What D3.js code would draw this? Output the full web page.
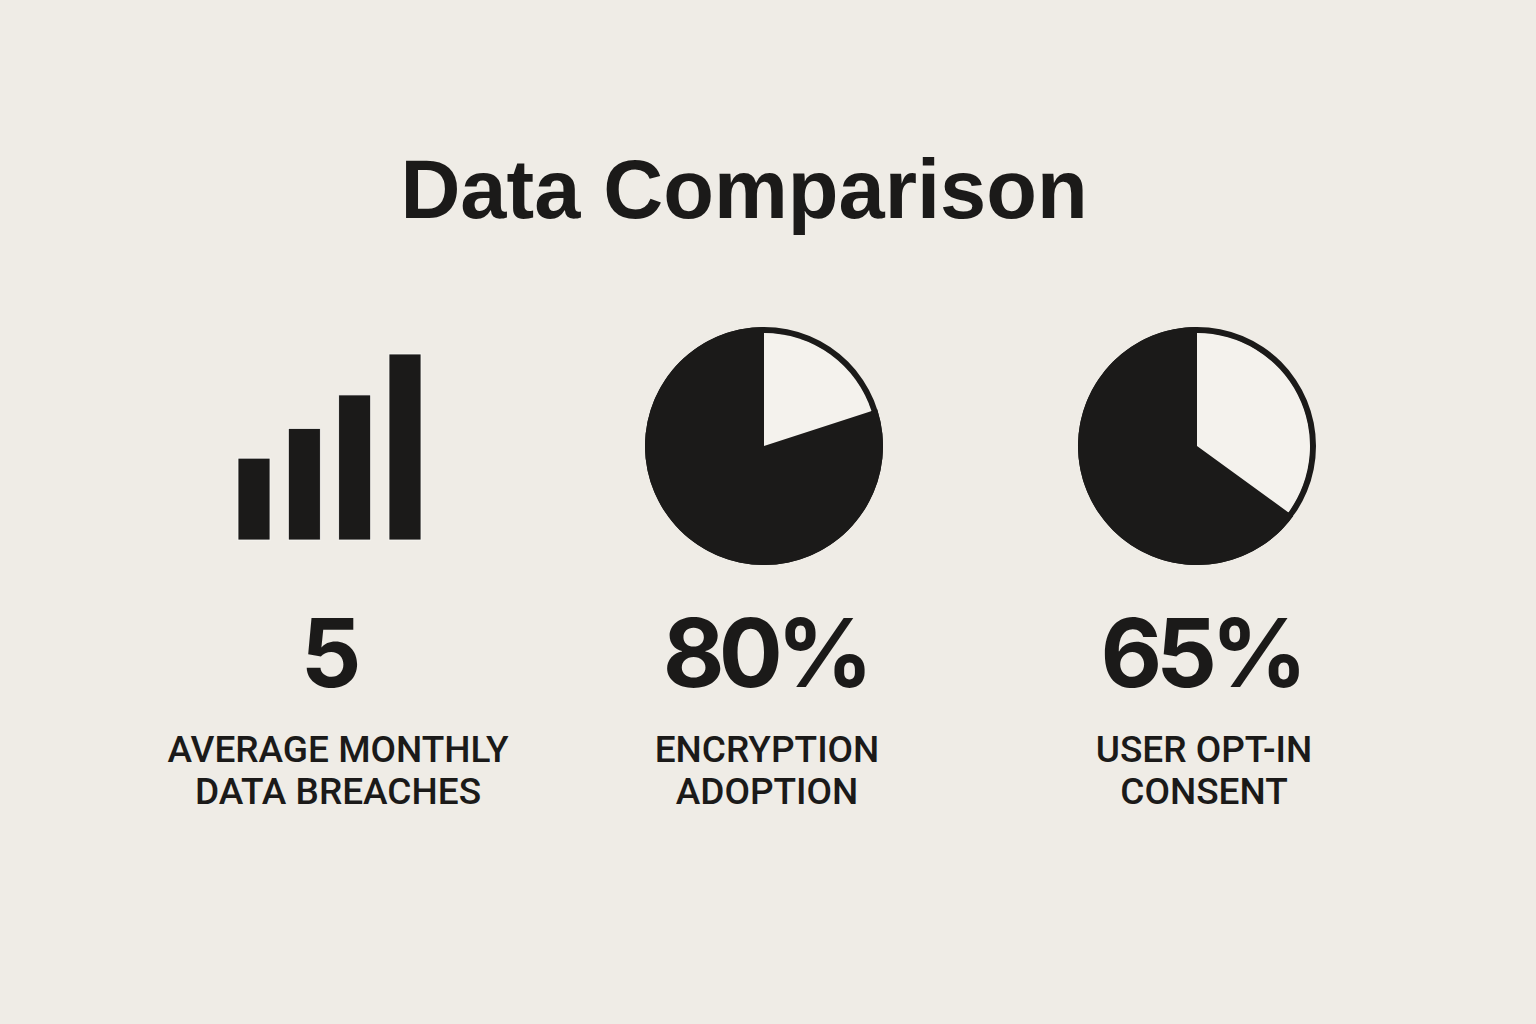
<!DOCTYPE html>
<html>
<head>
<meta charset="utf-8">
<script src="https://cdn.jsdelivr.net/npm/d3@7"></script>
<style>
  html, body { margin: 0; padding: 0; background: #efece6; }
  svg { display: block; }
</style>
</head>
<body>
<svg id="chart" width="1536" height="1024"></svg>
<script>
// Monthly breach counts shown as the rising bar icon
const breachBars = [2.2, 3.0, 3.9, 5.0];
// Shares (percent) shown in the two pies
const pieShares = [80, 65];
// Big headline figures under each graphic
const headlineValues = ["5", "80%", "65%"];
// Caption lines under each figure
const captionLines = [
  ["AVERAGE MONTHLY", "DATA BREACHES"],
  ["ENCRYPTION", "ADOPTION"],
  ["USER OPT-IN", "CONSENT"]
];
const titleText = "Data Comparison";

const W = 1536, H = 1024;
const ink = "#1b1a19";
const paper = "#efece6";
const wedgePaper = "#f4f2ed";

const svg = d3.select("#chart");
svg.append("rect").attr("width", W).attr("height", H).attr("fill", paper);

// Title
svg.append("text")
  .attr("x", 744).attr("y", 218)
  .attr("text-anchor", "middle")
  .attr("font-family", "'Liberation Sans', Arial, sans-serif")
  .attr("font-weight", 700)
  .attr("font-size", 83)
  .attr("fill", ink)
  .text(titleText);

// Column centers for figures and captions
const figX = [328, 765, 1201];
const capX = [338, 767, 1204];

// Bar icon
const xBar = d3.scaleBand()
  .domain(d3.range(breachBars.length))
  .range([238, 421])
  .paddingInner(0.364)
  .paddingOuter(0);
const yBar = d3.scaleLinear().domain([0, 5]).range([540, 354]);

svg.append("g").selectAll("rect")
  .data(breachBars)
  .join("rect")
  .attr("x", (d, i) => xBar(i))
  .attr("y", d => yBar(d))
  .attr("width", xBar.bandwidth())
  .attr("height", d => yBar(0) - yBar(d))
  .attr("fill", ink)
  .attr("stroke", "#faf9f6")
  .attr("stroke-width", 0.8);

// Pies
const pieCenters = [[764, 446], [1197, 446]];
const R = 119, ring = 6.5;
const pie = d3.pie().sort(null).value(d => d.v);

pieShares.forEach((share, k) => {
  const g = svg.append("g")
    .attr("transform", `translate(${pieCenters[k][0]},${pieCenters[k][1]})`);
  const slices = pie([{ key: "rest", v: 100 - share }, { key: "share", v: share }]);

  // outline ring around the whole disc
  g.append("path")
    .attr("d", d3.arc().innerRadius(R - ring).outerRadius(R)({ startAngle: 0, endAngle: 2 * Math.PI }))
    .attr("fill", ink);

  g.selectAll("path.slice")
    .data(slices)
    .join("path")
    .attr("class", "slice")
    .attr("d", d => d3.arc()
      .innerRadius(0)
      .outerRadius(d.data.key === "share" ? R : R - ring + 0.5)(d))
    .attr("fill", d => d.data.key === "share" ? ink : wedgePaper);
});

// Headline figures
svg.append("g").selectAll("text")
  .data(headlineValues)
  .join("text")
  .attr("x", (d, i) => figX[i])
  .attr("y", 687)
  .attr("text-anchor", "middle")
  .attr("font-family", "Inter, sans-serif")
  .attr("font-weight", 700)
  .attr("font-size", 95)
  .attr("letter-spacing", -6)
  .attr("fill", ink)
  .text(d => d);

// Captions
const capG = svg.append("g");
captionLines.forEach((lines, i) => {
  lines.forEach((line, j) => {
    capG.append("text")
      .attr("x", capX[i])
      .attr("y", 762 + j * 42)
      .attr("text-anchor", "middle")
      .attr("font-family", "Roboto, sans-serif")
      .attr("font-weight", 500)
      .attr("font-size", 37)
      .attr("fill", ink)
      .text(line);
  });
});
</script>
</body>
</html>
